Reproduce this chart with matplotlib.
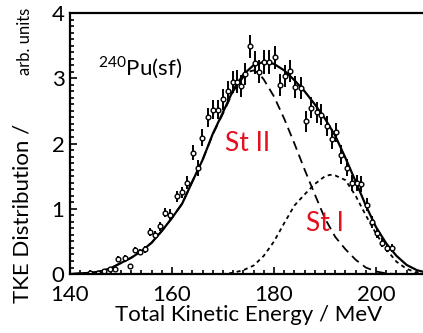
import matplotlib.pyplot as plt
from matplotlib.ticker import MultipleLocator

plt.rcParams['font.family'] = ['Lato', 'DejaVu Sans']
plt.rcParams['mathtext.fontset'] = 'custom'
plt.rcParams['mathtext.rm'] = 'Lato'

# measured points (TKE in MeV, distribution, error)
tke = [144.0, 145.5, 146.7, 147.8, 148.8, 149.4, 150.8, 151.8, 152.7, 153.7,
       154.7, 155.7, 156.7, 157.6, 158.6, 159.6, 161.0, 161.9, 162.9, 164.1,
       165.1, 165.9, 167.0, 168.0, 169.0, 170.0, 171.0, 172.0, 172.8, 173.5,
       174.3, 175.2, 176.2, 177.0, 178.1, 179.1, 180.2, 181.2, 182.2, 183.1,
       184.2, 185.2, 186.2, 187.3, 188.4, 189.3, 190.3, 191.3, 192.2, 193.1,
       194.3, 195.3, 196.3, 197.1, 198.2, 199.2, 200.2, 201.2, 202.2, 203.1]
dist = [0.01, 0.02, 0.04, 0.07, 0.08, 0.23, 0.25, 0.12, 0.37, 0.34,
        0.38, 0.65, 0.60, 0.73, 0.94, 0.91, 1.19, 1.25, 1.40, 1.86,
        1.63, 2.09, 2.40, 2.52, 2.52, 2.68, 2.80, 2.94, 2.95, 2.88,
        3.06, 3.49, 3.24, 3.10, 3.25, 3.25, 3.32, 2.90, 3.03, 3.11,
        2.87, 2.85, 2.34, 2.55, 2.48, 2.44, 2.27, 2.07, 2.17, 1.83,
        1.63, 1.40, 1.40, 1.38, 1.06, 0.80, 0.63, 0.48, 0.40, 0.40]
err = [0.02, 0.02, 0.02, 0.03, 0.03, 0.04, 0.04, 0.04, 0.05, 0.05,
       0.05, 0.06, 0.06, 0.07, 0.07, 0.08, 0.09, 0.09, 0.10, 0.11,
       0.12, 0.13, 0.14, 0.15, 0.15, 0.16, 0.16, 0.17, 0.17, 0.17,
       0.17, 0.18, 0.18, 0.18, 0.18, 0.18, 0.18, 0.17, 0.17, 0.17,
       0.17, 0.17, 0.16, 0.16, 0.16, 0.16, 0.15, 0.15, 0.15, 0.14,
       0.13, 0.12, 0.12, 0.12, 0.10, 0.09, 0.08, 0.07, 0.06, 0.06]

# fit curves
e_tot = [140, 142, 144, 146, 148, 150, 152, 154, 156, 158, 160, 162, 164, 166, 168,
         170, 172, 174, 176, 178, 180, 182, 184, 186, 188, 190, 192, 194, 196, 198,
         200, 202, 204, 206, 208, 210]
total = [0.0, 0.01, 0.02, 0.04, 0.09, 0.17, 0.25, 0.35, 0.48, 0.66, 0.86, 1.08, 1.42,
         1.75, 2.15, 2.48, 2.82, 3.06, 3.20, 3.25, 3.22, 3.12, 2.97, 2.80, 2.60, 2.38,
         2.12, 1.78, 1.42, 1.05, 0.72, 0.47, 0.28, 0.14, 0.06, 0.02]

e_st2 = [140, 142, 144, 146, 148, 150, 152, 154, 156, 158, 160, 162, 164, 166, 168,
         170, 172, 174, 175, 176, 177, 178, 180, 182, 184, 186, 188, 190, 192, 194,
         196, 198, 200, 202, 204, 210]
st2 = [0.0, 0.01, 0.02, 0.04, 0.09, 0.17, 0.25, 0.35, 0.48, 0.66, 0.86, 1.08, 1.42,
       1.75, 2.14, 2.46, 2.80, 3.02, 3.10, 3.12, 3.08, 2.98, 2.72, 2.38, 2.00, 1.60,
       1.22, 0.85, 0.57, 0.38, 0.22, 0.10, 0.04, 0.01, 0.0, 0.0]

e_st1 = [140, 170, 172, 174, 176, 178, 180, 182, 184, 186, 188, 190, 191, 192, 194,
         196, 198, 200, 202, 204, 206, 208, 210]
st1 = [0.0, 0.0, 0.02, 0.06, 0.13, 0.28, 0.50, 0.78, 1.05, 1.22, 1.38, 1.50, 1.52,
       1.51, 1.44, 1.20, 0.90, 0.62, 0.38, 0.19, 0.08, 0.02, 0.0]

fig = plt.figure(figsize=(4.23, 3.33), dpi=100)
ax = fig.add_axes([0.1655, 0.177, 0.844, 0.784])

ax.plot(e_st2, st2, color='black', lw=1.3, ls=(0, (5, 3)))
ax.plot(e_st1, st1, color='black', lw=1.3, ls=(0, (2.2, 2)))
ax.plot(e_tot, total, color='black', lw=1.6)
ax.errorbar(tke, dist, yerr=err, fmt='o', ms=3.4, mfc='white', mec='black', mew=1.0,
            ecolor='black', elinewidth=1.4, capsize=0)

ax.text(145.4, 3.05, r'$^{240}$Pu(sf)', fontsize=16)
ax.text(174.9, 2.0, 'St II', color='#e3101e', fontsize=19, ha='center', va='center')
ax.text(190.0, 0.78, 'St I', color='#e3101e', fontsize=19, ha='center', va='center')

ax.set_xlim(140, 210)
ax.set_ylim(0, 4)
ax.xaxis.set_major_locator(MultipleLocator(20))
ax.xaxis.set_minor_locator(MultipleLocator(2))
ax.yaxis.set_major_locator(MultipleLocator(1))
ax.yaxis.set_minor_locator(MultipleLocator(0.1))
ax.tick_params(which='both', direction='in', top=False, right=False, labelsize=16, width=1.2)
ax.tick_params(which='major', length=5)
ax.tick_params(which='minor', length=3)
ax.tick_params(axis='x', pad=8)
ax.tick_params(axis='y', pad=4)
for s in ax.spines.values():
    s.set_linewidth(1.6)

ax.set_xlabel('Total Kinetic Energy / MeV', fontsize=16, labelpad=0)
fig.text(0.054, 0.36, 'TKE Distribution /', rotation=90, fontsize=16, ha='center', va='center')
fig.text(0.058, 0.875, 'arb. units', rotation=90, fontsize=12, ha='center', va='center')

fig.savefig('out.png', dpi=100)
